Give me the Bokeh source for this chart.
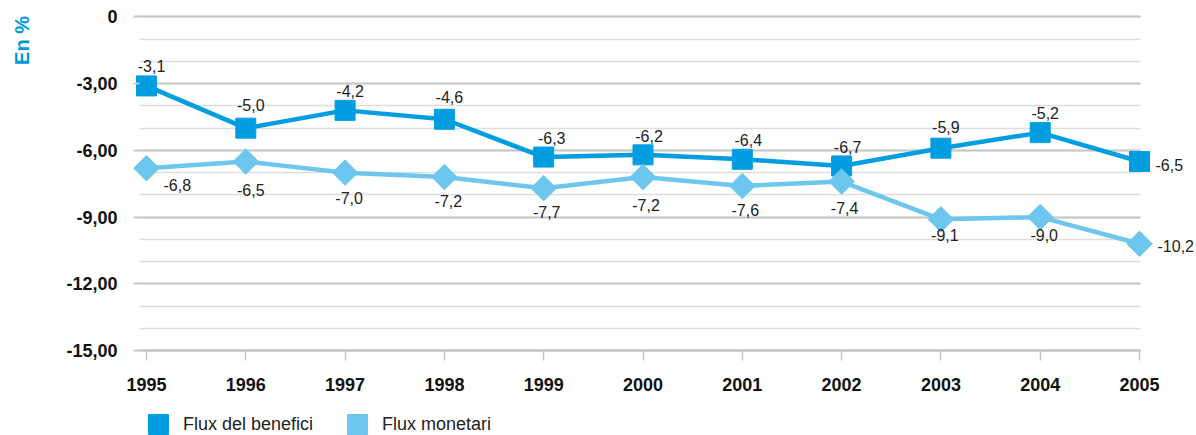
import numpy as np
from bokeh.plotting import figure
from bokeh.models import (Range1d, FixedTicker, Legend, LegendItem, Label,
                          ColumnDataSource, Grid)
from bokeh.core.properties import value
from bokeh.embed import file_html
from bokeh.resources import INLINE

# ---- data ----
years = [1995, 1996, 1997, 1998, 1999, 2000, 2001, 2002, 2003, 2004, 2005]
flux_benefici = [-3.1, -5.0, -4.2, -4.6, -6.3, -6.2, -6.4, -6.7, -5.9, -5.2, -6.5]
flux_monetari = [-6.8, -6.5, -7.0, -7.2, -7.7, -7.2, -7.6, -7.4, -9.1, -9.0, -10.2]
y_ticks = [0, -3, -6, -9, -12, -15]
y_tick_labels = ["0", "-3,00", "-6,00", "-9,00", "-12,00", "-15,00"]
series_names = ["Flux del benefici", "Flux monetari"]
y_title = "En %"

# ---- label placement (styles) ----
b_xoff = [5, 5, 5, 5, 8, 6, 6, 6, 5, 5, 16]
b_yoff = [-20, -23, -19, -22, -19, -19, -19, -19, -21, -20, 3]
b_align = ["center"] * 10 + ["left"]
m_xoff = [17, 5, 4, 4, 3, 3, 3, 3, 4, 4, 18]
m_yoff = [17, 28, 25, 24, 24, 28, 24, 26, 16, 18, 2]
m_align = ["left"] + ["center"] * 9 + ["left"]

C1 = "#009ee0"
C2 = "#6cc6ed"
FONT = "Liberation Sans"
MAJOR = "#c6c6c6"
MINOR = "#dedede"

# plot-area geometry (data units)
X0, X1 = 1993.5297, 2005.574      # full canvas
PX0, PX1 = 1994.9295, 2005.01     # plotting area
Y0, Y1 = -18.823, 0.742


def fmt(v):
    return f"{v:.1f}".replace(".", ",")


p = figure(width=1196, height=435, output_backend="svg", toolbar_location=None,
           x_range=Range1d(X0, X1), y_range=Range1d(Y0, Y1),
           min_border=0, min_border_left=0, min_border_right=0,
           min_border_top=0, min_border_bottom=0)
p.outline_line_color = None

# grid
p.xgrid.visible = False
p.ygrid.ticker = FixedTicker(ticks=y_ticks, minor_ticks=list(range(-15, 1)))
p.ygrid.grid_line_color = MAJOR
p.ygrid.grid_line_width = 2
p.ygrid.minor_grid_line_color = MINOR
p.ygrid.minor_grid_line_width = 1.5
if "cross_bounds" in Grid.properties():
    p.ygrid.cross_bounds = (PX0, PX1)
else:
    p.ygrid.visible = False
    minor = [v for v in range(-15, 1) if v not in y_ticks]
    p.segment(x0=PX0, x1=PX1, y0=minor, y1=minor, line_color=MINOR,
              line_width=1.5)
    p.segment(x0=PX0, x1=PX1, y0=y_ticks, y1=y_ticks, line_color=MAJOR,
              line_width=2)

# y axis
p.yaxis.fixed_location = PX0
p.yaxis.ticker = FixedTicker(ticks=y_ticks)
p.yaxis.major_label_overrides = {t: l for t, l in zip(y_ticks, y_tick_labels)}
p.yaxis.axis_line_color = None
p.yaxis.major_tick_out = 6
p.yaxis.major_tick_in = 0
p.yaxis.major_tick_line_color = MAJOR
p.yaxis.major_tick_line_width = 2
p.yaxis.minor_tick_line_color = None
p.yaxis.major_label_standoff = 16
p.yaxis.major_label_text_font = FONT
p.yaxis.major_label_text_font_style = "bold"
p.yaxis.major_label_text_font_size = "18px"
p.yaxis.major_label_text_color = "#111111"

# x axis
p.xaxis.fixed_location = -15
p.xaxis.bounds = (PX0, PX1)
p.xaxis.ticker = FixedTicker(ticks=years)
p.xaxis.major_label_overrides = {y: str(y) for y in years}
p.xaxis.axis_line_color = MAJOR
p.xaxis.axis_line_width = 2
p.xaxis.major_tick_out = 10
p.xaxis.major_tick_in = 0
p.xaxis.major_tick_line_color = MAJOR
p.xaxis.major_tick_line_width = 1.5
p.xaxis.minor_tick_line_color = None
p.xaxis.major_label_standoff = 17
p.xaxis.major_label_text_font = FONT
p.xaxis.major_label_text_font_style = "bold"
p.xaxis.major_label_text_font_size = "18px"
p.xaxis.major_label_text_color = "#111111"

src1 = ColumnDataSource(dict(x=years, y=flux_benefici,
                             t=[fmt(v) for v in flux_benefici],
                             xo=b_xoff, yo=b_yoff, al=b_align))
src2 = ColumnDataSource(dict(x=years, y=flux_monetari,
                             t=[fmt(v) for v in flux_monetari],
                             xo=m_xoff, yo=m_yoff, al=m_align))

p.line("x", "y", source=src1, line_color=C1, line_width=4.5)
s1 = p.scatter("x", "y", source=src1, marker="square", size=20,
               fill_color=C1, line_color=C1)
p.line("x", "y", source=src2, line_color=C2, line_width=4.5)
s2 = p.scatter("x", "y", source=src2, marker="square", angle=np.pi / 4, size=18,
               fill_color=C2, line_color=C2)

for src in (src1, src2):
    p.text("x", "y", text="t", source=src, x_offset="xo", y_offset="yo",
           text_align="al", text_baseline="middle",
           text_font=value(FONT), text_font_size="16px", text_color="#222222")

# y axis title
p.add_layout(Label(x=21, y=395, x_units="screen", y_units="screen",
                   text=y_title, angle=np.pi / 2, text_align="center",
                   text_baseline="middle", text_font=FONT,
                   text_font_style="bold", text_font_size="20px",
                   text_color="#0099da"))

legend = Legend(items=[LegendItem(label=series_names[0], renderers=[s1]),
                       LegendItem(label=series_names[1], renderers=[s2])],
                orientation="horizontal", location=(133, -14),
                label_text_font=FONT, label_text_font_size="18px",
                label_text_color="#222222", glyph_width=50, glyph_height=50,
                label_standoff=0, spacing=19, padding=0, margin=0,
                border_line_color=None, background_fill_alpha=0,
                label_height=20)
p.add_layout(legend, "center")

open("out.html", "w").write(file_html(p, INLINE))
